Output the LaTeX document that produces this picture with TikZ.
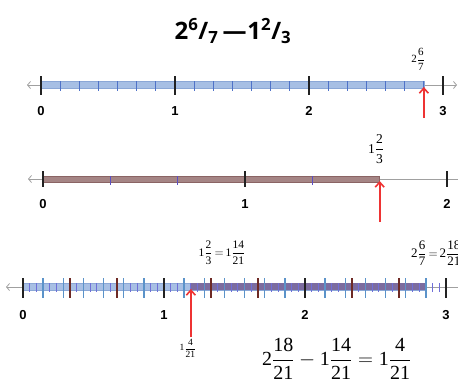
\documentclass[tikz,border=0pt]{standalone}
\usepackage{amsmath}
\usepackage{fontspec}
\setmainfont{Liberation Serif}
\newfontfamily\axisfont{Liberation Sans}
\newfontfamily\titlefont{Open Sans}
\usetikzlibrary{arrows.meta}
\definecolor{axisgray}{HTML}{A0A0A0}
\definecolor{tickblack}{HTML}{222222}
\definecolor{minorblueA}{HTML}{4F72C8}
\definecolor{minorpurpleB}{HTML}{5B4FC4}
\definecolor{sevblue}{HTML}{5B93C9}
\definecolor{thirdbrown}{HTML}{6E2A25}
\definecolor{smallpurple}{HTML}{6F6FD8}
\definecolor{barblue}{HTML}{A7BFE4}
\definecolor{barblueedge}{HTML}{8BA7D6}
\definecolor{barbrown}{HTML}{A58585}
\definecolor{barbrownedge}{HTML}{8A6464}
\definecolor{barpurple}{HTML}{7C6C9F}
\definecolor{arrowred}{HTML}{EE3333}
\newcommand{\mx}[3]{\ensuremath{\textrm{#1}\dfrac{\textrm{#2}}{\textrm{#3}}}}
\begin{document}
\begin{tikzpicture}[x=1pt,y=-1pt,
  axisline/.style={draw=axisgray, line width=0.8pt,
    {Straight Barb[length=3pt,width=7pt]}-{Straight Barb[length=3pt,width=7pt]}},
  majortick/.style={draw=tickblack, line width=1.9pt},
  minortick/.style={line width=1.2pt},
  redarrow/.style={draw=arrowred, line width=1.6pt, -{Straight Barb[length=5pt,width=9pt]}},
  numlabel/.style={font=\fontsize{13}{15}\selectfont\axisfont\bfseries, inner sep=0pt},
  fraclabel/.style={inner sep=0pt}
]
\useasboundingbox (0,0) rectangle (458,381);

% title
\node[font=\fontsize{24}{28}\selectfont\titlefont\bfseries, inner sep=0pt] (title) at (233,31)
  {2\textsuperscript{6}/\textsubscript{7}\kern4pt\textemdash\kern1pt 1\textsuperscript{2}/\textsubscript{3}};

% ---------------- line 1 (sevenths) x0=41, u=134, y=85
\coordinate (a1l) at (27,85);
\coordinate (a1r) at (457,85);
\draw[axisline] (a1l) -- (a1r);
\fill[barblue, draw=barblueedge, line width=0.5pt] (41,81.5) rectangle ({41+134*20/7},88);
\foreach \k in {1,...,20}{
  \pgfmathtruncatemacro{\rem}{mod(\k,7)}
  \ifnum\rem=0\else
    \draw[minortick, draw=minorblueA] ({41+134*\k/7},81) -- ++(0,10);
  \fi}
\foreach \k in {0,1,2,3}{
  \draw[majortick] ({41+134*\k},76) -- ++(0,19);
  \node[numlabel] (n1\k) at ({41+134*\k},111) {\k};}
\node[fraclabel, font=\fontsize{11}{13}\selectfont] (lab1) at (418,59) {\mx{2}{6}{7}};
\coordinate (arrowAtail) at ({41+134*20/7},118);
\coordinate (arrowAhead) at ({41+134*20/7},87);
\draw[redarrow] (arrowAtail) -- (arrowAhead);

% ---------------- line 2 (thirds) x0=43, u=202, y=179
\coordinate (a2l) at (28,179);
\coordinate (a2r) at (462,179);
\draw[axisline] (a2l) -- (a2r);
\fill[barbrown, draw=barbrownedge, line width=0.5pt] (43,176) rectangle ({43+202*5/3},182.5);
\foreach \k in {1,2,4}{
  \draw[minortick, draw=minorpurpleB] ({43+202*\k/3},176) -- ++(0,9);}
\foreach \k in {0,1,2}{
  \draw[majortick] ({43+202*\k},171) -- ++(0,16);
  \node[numlabel] (n2\k) at ({43+202*\k},204) {\k};}
\node[fraclabel, font=\fontsize{13.5}{16}\selectfont] (lab2) at (376,149) {\mx{1}{2}{3}};
\coordinate (arrowBtail) at (379.7,222);
\coordinate (arrowBhead) at (379.7,181);
\draw[redarrow] (arrowBtail) -- (arrowBhead);

% ---------------- line 3 (21sts) x0=23, u=141, y=287
\coordinate (a3l) at (6,287);
\coordinate (a3r) at (462,287);
\draw[axisline] (a3l) -- (a3r);
\fill[barblue, draw=barblueedge, line width=0.5pt] (23,283) rectangle ({23+141*60/21},290);
\fill[barpurple] ({23+141*25/21},283) rectangle ({23+141*60/21},290);
\foreach \k in {1,...,62}{
  \draw[minortick, line width=1.1pt, draw=smallpurple] ({23+141*\k/21},283) -- ++(0,9);}
\foreach \k in {1,...,20}{
  \pgfmathtruncatemacro{\rem}{mod(\k,7)}
  \ifnum\rem=0\else
    \draw[minortick, line width=1.5pt, draw=sevblue] ({23+141*\k/7},278) -- ++(0,20);
  \fi}
\foreach \k in {1,2,4,5,7,8}{
  \draw[minortick, line width=1.6pt, draw=thirdbrown] ({23+141*\k/3},278) -- ++(0,20);}
\foreach \k in {0,1,2,3}{
  \draw[majortick] ({23+141*\k},278) -- ++(0,20);
  \node[numlabel] (n3\k) at ({23+141*\k},315) {\k};}
\node[fraclabel, font=\fontsize{11.5}{13}\selectfont] (lab3a) at (222,253)
  {\mx{1}{2}{3}${}\mkern-2mu=\mkern-2mu{}$\mx{1}{14}{21}};
\node[fraclabel, font=\fontsize{13}{15}\selectfont, anchor=west] (lab3b) at (411,253)
  {\mx{2}{6}{7}${}\mkern-2mu=\mkern-2mu{}$\mx{2}{18}{21}};
\coordinate (arrowCtail) at ({23+141*25/21},337);
\coordinate (arrowChead) at ({23+141*25/21},289);
\draw[redarrow] (arrowCtail) -- (arrowChead);
\node[fraclabel, font=\fontsize{9.5}{11}\selectfont] (lab3c) at (188,348) {\mx{1}{4}{21}};
\node[fraclabel, font=\fontsize{20}{24}\selectfont, anchor=west] (eq) at (262,359)
  {\mx{2}{18}{21}${}-{}$\mx{1}{14}{21}${}={}$\mx{1}{4}{21}};
\end{tikzpicture}
\end{document}
